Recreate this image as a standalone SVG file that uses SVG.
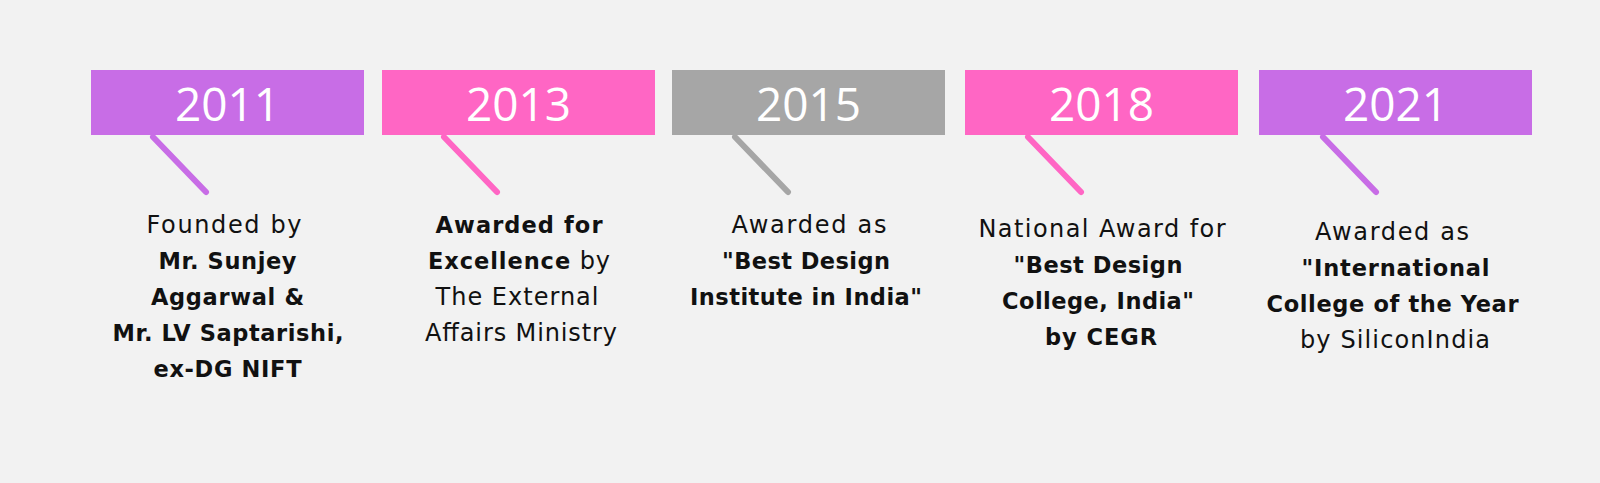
<svg xmlns="http://www.w3.org/2000/svg" width="1600" height="483" viewBox="0 0 1600 483">
<style>
.bg{fill:#f2f2f2}
.yr{font-family:"Open Sans","Liberation Sans",sans-serif;font-size:46px;fill:#ffffff;text-anchor:middle}
.t{font-family:"DejaVu Sans","Liberation Sans",sans-serif;font-size:24px;fill:#111111;text-anchor:middle}
.b{font-weight:bold;font-size:22.5px}
.ln{stroke-width:6;stroke-linecap:round;fill:none}
.pu{fill:#c86de6}
.pk{fill:#ff66c4}
.gr{fill:#a6a6a6}
</style>
<rect class="bg" x="0" y="0" width="1600" height="483"/>
<g id="connectors">
<line class="ln" x1="153" y1="137" x2="206" y2="192" stroke="#c86de6"/>
<line class="ln" x1="444" y1="137" x2="497" y2="192" stroke="#ff66c4"/>
<line class="ln" x1="735" y1="137" x2="788" y2="192" stroke="#a6a6a6"/>
<line class="ln" x1="1028" y1="137" x2="1081" y2="192" stroke="#ff66c4"/>
<line class="ln" x1="1323" y1="137" x2="1376" y2="192" stroke="#c86de6"/>
</g>
<g id="node-2011">
<rect class="pu" x="91" y="70" width="273" height="65"/>
<text class="yr" x="227.5" y="121">2011</text>
<text class="t" x="224" y="233" textLength="155" lengthAdjust="spacing">Founded by</text>
<text class="t b" x="227.5" y="269" textLength="138" lengthAdjust="spacing">Mr. Sunjey</text>
<text class="t b" x="227.5" y="305" textLength="153" lengthAdjust="spacing">Aggarwal &amp;</text>
<text class="t b" x="228" y="341" textLength="231" lengthAdjust="spacing">Mr. LV Saptarishi,</text>
<text class="t b" x="227.5" y="377" textLength="148" lengthAdjust="spacing">ex-DG NIFT</text>
</g>
<g id="node-2013">
<rect class="pk" x="382" y="70" width="273" height="65"/>
<text class="yr" x="518.5" y="121">2013</text>
<text class="t b" x="519" y="233" textLength="167" lengthAdjust="spacing">Awarded for</text>
<text class="t" x="519" y="269" textLength="182" lengthAdjust="spacing"><tspan class="b">Excellence</tspan> by</text>
<text class="t" x="517" y="305" textLength="163" lengthAdjust="spacing">The External</text>
<text class="t" x="521" y="341" textLength="192" lengthAdjust="spacing">Affairs Ministry</text>
</g>
<g id="node-2015">
<rect class="gr" x="672" y="70" width="273" height="65"/>
<text class="yr" x="808.5" y="121">2015</text>
<text class="t" x="809" y="233" textLength="155" lengthAdjust="spacing">Awarded as</text>
<text class="t b" x="806" y="269" textLength="168" lengthAdjust="spacing">"Best Design</text>
<text class="t b" x="806" y="305" textLength="232" lengthAdjust="spacing">Institute in India"</text>
</g>
<g id="node-2018">
<rect class="pk" x="965" y="70" width="273" height="65"/>
<text class="yr" x="1101.5" y="121">2018</text>
<text class="t" x="1102" y="237" textLength="247" lengthAdjust="spacing">National Award for</text>
<text class="t b" x="1098" y="273" textLength="169" lengthAdjust="spacing">"Best Design</text>
<text class="t b" x="1098" y="309" textLength="192" lengthAdjust="spacing">College, India"</text>
<text class="t b" x="1101" y="345" textLength="112" lengthAdjust="spacing">by CEGR</text>
</g>
<g id="node-2021">
<rect class="pu" x="1259" y="70" width="273" height="65"/>
<text class="yr" x="1395.5" y="121">2021</text>
<text class="t" x="1392" y="240" textLength="154" lengthAdjust="spacing">Awarded as</text>
<text class="t b" x="1395.5" y="276" textLength="188" lengthAdjust="spacing">"International</text>
<text class="t b" x="1392.5" y="312" textLength="252" lengthAdjust="spacing">College of the Year</text>
<text class="t" x="1395" y="348" textLength="190" lengthAdjust="spacing">by SiliconIndia</text>
</g>
</svg>
